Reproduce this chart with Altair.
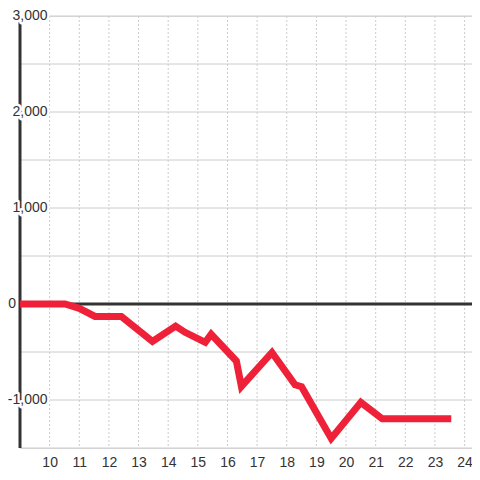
import altair as alt
import pandas as pd

# data
hours = [9.0, 10.52, 11.0, 11.53, 12.42, 13.47, 14.25, 14.57, 15.25, 15.45,
         16.3, 16.47, 17.5, 18.28, 18.5, 19.5, 20.5, 21.22, 23.55]
values = [0, 0, -45, -130, -130, -390, -230, -295, -400, -315,
          -594, -858, -505, -842, -862, -1400, -1025, -1195, -1195]

y_label_values = [-1000, 1000, 2000, 3000]
y_label_texts = ["-1,000", "1,000", "2,000", "3,000"]
zero_label_values = [0]
zero_label_texts = ["0"]
y_grid_values = [-1500, -1000, -500, 500, 1000, 1500, 2000, 2500, 3000]
x_tick_values = [10, 11, 12, 13, 14, 15, 16, 17, 18, 19, 20, 21, 22, 23, 24]
x_start = [9]
zero_value = [0]

df = pd.DataFrame({"hour": hours, "value": values})
labels_df = pd.DataFrame({"v": y_label_values, "t": y_label_texts})
zero_df = pd.DataFrame({"v": zero_label_values, "t": zero_label_texts})
ygrid_df = pd.DataFrame({"v": y_grid_values})
xgrid_df = pd.DataFrame({"h": x_tick_values})
yaxis_df = pd.DataFrame({"h": x_start})
rule_df = pd.DataFrame({"v": zero_value})

FONT = "Liberation Sans"
TEXT = "#333333"
GRID = "#cccccc"

x_scale = alt.Scale(domain=[9, 24.25], nice=False, zero=False)
y_scale = alt.Scale(domain=[-1500, 3000], nice=False, zero=False)
x_axis = alt.Axis(values=x_tick_values, grid=False, domain=False, ticks=False,
                  labelFontSize=14, labelColor=TEXT, labelFont=FONT,
                  labelPadding=7, labelOverlap=False, title=None)

ygrid = alt.Chart(ygrid_df).mark_rule(color=GRID, strokeWidth=1).encode(
    y=alt.Y("v:Q", scale=y_scale, axis=None)
)
xgrid = alt.Chart(xgrid_df).mark_rule(color=GRID, strokeWidth=1, strokeDash=[2, 2]).encode(
    x=alt.X("h:Q", scale=x_scale, axis=x_axis)
)
yaxis = alt.Chart(yaxis_df).mark_rule(color=TEXT, strokeWidth=3).encode(
    x=alt.X("h:Q", scale=x_scale, axis=x_axis)
)
zero_rule = alt.Chart(rule_df).mark_rule(color=TEXT, strokeWidth=3).encode(
    y=alt.Y("v:Q", scale=y_scale, axis=None)
)

line = alt.Chart(df).mark_line(
    color="#EE2138", strokeWidth=7, strokeJoin="miter", strokeCap="butt"
).encode(
    x=alt.X("hour:Q", scale=x_scale, axis=x_axis),
    y=alt.Y("value:Q", scale=y_scale, axis=None),
)

halo = alt.Chart(labels_df).mark_text(
    align="right", baseline="middle", fontSize=14, font=FONT,
    fill="white", stroke="white", strokeWidth=5, strokeJoin="round"
).encode(
    y=alt.Y("v:Q", scale=y_scale, axis=None),
    x=alt.value(27.5),
    text="t:N",
)

labels = alt.Chart(labels_df).mark_text(
    align="right", baseline="middle", fontSize=14, font=FONT, color=TEXT
).encode(
    y=alt.Y("v:Q", scale=y_scale, axis=None),
    x=alt.value(27.5),
    text="t:N",
)

zero_label = alt.Chart(zero_df).mark_text(
    align="right", baseline="middle", fontSize=14, font=FONT, color=TEXT
).encode(
    y=alt.Y("v:Q", scale=y_scale, axis=None),
    x=alt.value(-4),
    text="t:N",
)

chart = alt.layer(ygrid, xgrid, yaxis, zero_rule, line, halo, labels, zero_label).properties(
    width=452,
    height=432,
    autosize=alt.AutoSizeParams(type="none"),
    padding={"left": 12, "top": 8, "right": 0, "bottom": 24},
).configure_view(stroke=None).configure(background="white")

chart.save("out.html", embed_options={"renderer": "svg", "actions": False})
